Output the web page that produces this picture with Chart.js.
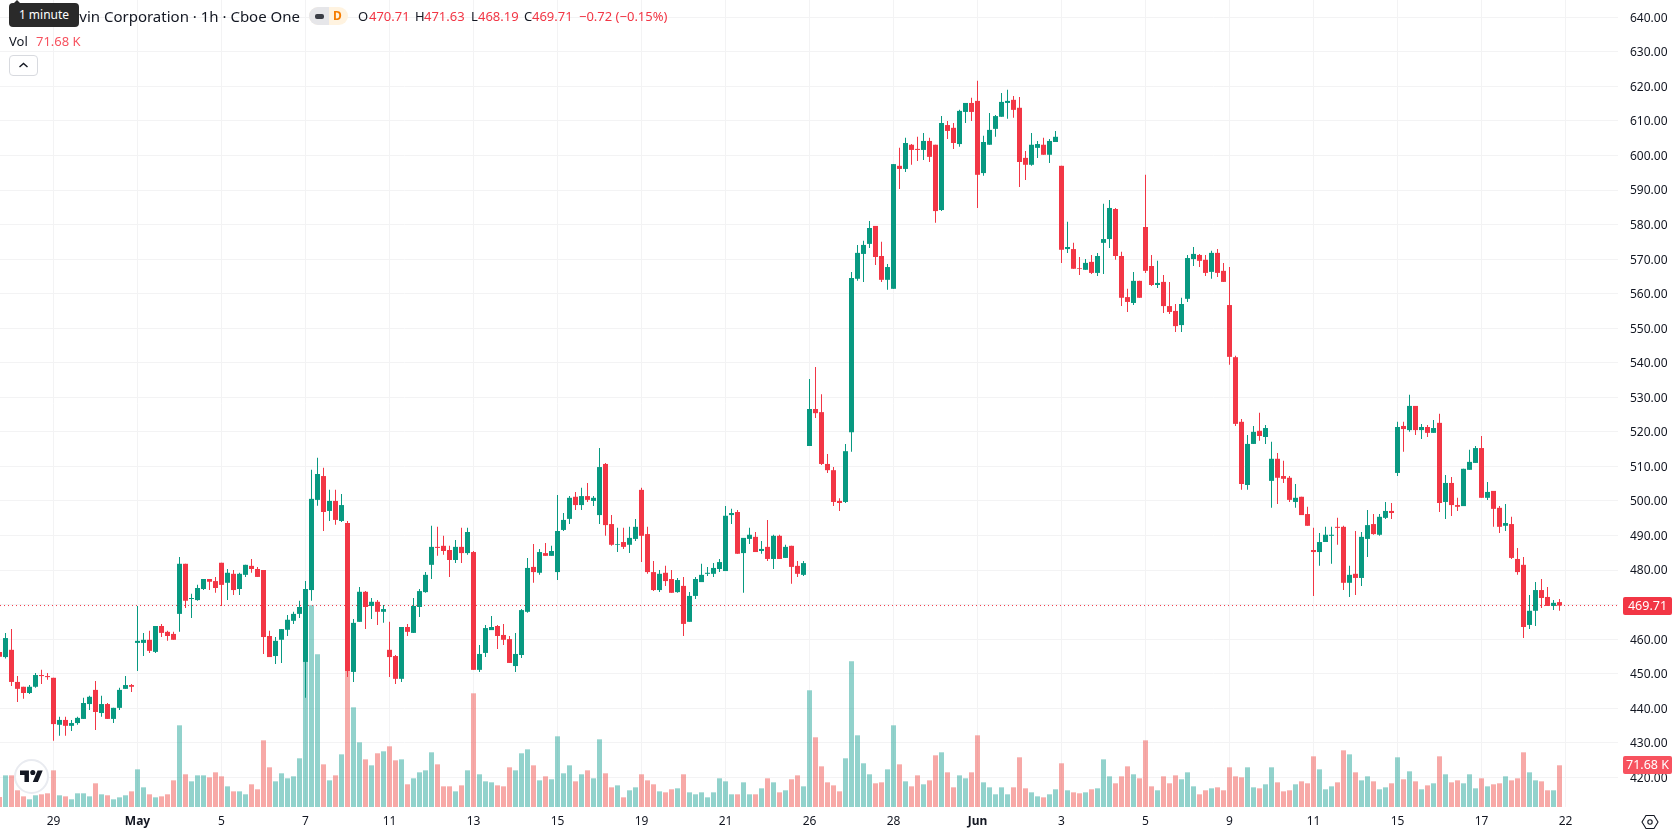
<!DOCTYPE html>
<html>
<head>
<meta charset="utf-8">
<title>AppLovin Corporation · 1h</title>
<script src="https://cdn.jsdelivr.net/npm/chart.js@4/dist/chart.umd.min.js"></script>
<style>
    html, body { margin: 0; padding: 0; background: #fff; overflow: hidden; }
    #wrap { position: relative; width: 1678px; height: 835px; font-family: "Noto Sans", sans-serif; color: #131722; }
    #priceChart { position: absolute; left: 0; top: 0; }
    .txt { position: absolute; white-space: nowrap; font-size: 13px; line-height: 18px; }
    .red { color: #f23645; }
    #tip { position: absolute; left: 9px; top: 3px; width: 70px; height: 24px; background: #2a2a2a; border-radius: 4px; color: #fff; font-size: 12px; line-height: 24px; text-align: center; }
    #tip:before { content: ""; position: absolute; left: 4px; top: -3px; border: 4px solid transparent; border-top: 0; border-bottom-color: #2a2a2a; }
    #pill { position: absolute; left: 309px; top: 7px; width: 39px; height: 18px; border-radius: 9px; overflow: hidden; background: #fff3e0; }
    #pill i { position: absolute; left: 0; top: 0; width: 20px; height: 18px; background: #e6e6e9; }
    #pill b { position: absolute; left: 6px; top: 7px; width: 9px; height: 5px; border-radius: 2px; background: #3a3d45; }
    #pill span { position: absolute; left: 24px; top: 0; font-size: 12px; line-height: 18px; font-weight: 700; color: #f57c00; }
    #collapse { position: absolute; left: 9px; top: 55px; width: 27px; height: 19px; border: 1px solid #d8dadf; border-radius: 4px; background: #fff; }
    #logo { position: absolute; left: 14px; top: 759px; width: 31px; height: 31px; border: 2px solid #e9ebf0; border-radius: 50%; background: #fff; }
    #gear { position: absolute; left: 1641px; top: 813px; }
</style>
</head>
<body>
<div id="wrap">
    <canvas id="priceChart" width="1678" height="835"></canvas>

    <span class="txt" style="right:1378px;top:7px;font-size:15px;">AppLovin Corporation · 1h · Cboe One</span>
    <div id="tip">1 minute</div>
    <div id="pill"><i></i><b></b><span>D</span></div>
    <span class="txt" style="left:358px;top:7px;">O</span><span class="txt red" style="left:369px;top:7px;">470.71</span>
    <span class="txt" style="left:415px;top:7px;">H</span><span class="txt red" style="left:424px;top:7px;">471.63</span>
    <span class="txt" style="left:471px;top:7px;">L</span><span class="txt red" style="left:478px;top:7px;">468.19</span>
    <span class="txt" style="left:524px;top:7px;">C</span><span class="txt red" style="left:532px;top:7px;">469.71</span>
    <span class="txt red" style="left:579px;top:7px;">−0.72 (−0.15%)</span>
    <span class="txt" style="left:9px;top:32px;">Vol</span><span class="txt" style="left:36px;top:32px;color:#f7525f;">71.68 K</span>

    <div id="collapse">
        <svg width="27" height="19" viewBox="0 0 27 19"><path d="M9.5 11 L13.5 7.5 L17.5 11" fill="none" stroke="#131722" stroke-width="1.4"/></svg>
    </div>

    <div id="logo">
        <svg style="position:absolute;left:4px;top:7px;" width="23" height="18" viewBox="0 0 36 28"><path d="M14 22H7V11H0V4h14v18zM28 22h-8l7.5-18h8L28 22z" fill="#131722"/><circle cx="20" cy="7" r="4" fill="#131722"/></svg>
    </div>

    <svg id="gear" width="18" height="18" viewBox="0 0 18 18">
        <path d="M5 2.5h8l4 6.5-4 6.5H5L1 9z" fill="none" stroke="#131722" stroke-width="1.1"/>
        <circle cx="9" cy="9" r="2.2" fill="none" stroke="#131722" stroke-width="1.1"/>
    </svg>
</div>

<script>
// Hourly candles, oldest first
const opens = [
    456.3,454.8,456.9,447.6,446.2,444.4,446.2,449.6,449.3,448.8,
    435.2,436.6,434.9,435.7,436.9,441.2,445.3,438.6,441.2,436.9,
    440.1,445.6,446.7,458.9,458.9,459.8,456.3,463.8,462.1,461.5,
    467.3,481.8,471.6,471.3,474.5,477.4,476.8,482.1,476.3,478.9,
    474.5,478.6,481.2,480.3,480.0,460.9,455.1,459.8,462.7,465.3,
    467.3,453.4,474.2,500.3,507.2,497.1,500.0,494.2,493.6,450.5,
    465.0,473.7,469.6,470.8,467.9,456.9,455.1,448.5,463.5,461.8,
    469.3,473.6,481.5,486.7,487.0,485.8,482.9,486.7,484.9,485.2,
    451.1,456.0,462.6,463.8,461.2,460.0,452.2,455.4,467.9,480.9,
    479.2,484.9,484.1,479.4,491.6,494.8,501.2,498.8,501.4,500.0,
    495.9,510.7,493.3,487.3,488.1,487.3,489.0,503.2,490.4,479.4,
    474.2,479.2,477.4,473.6,475.4,465.0,472.5,476.5,478.9,478.9,
    480.3,479.7,495.9,496.8,484.9,489.0,489.6,485.5,486.7,483.2,
    489.9,483.5,487.0,481.2,478.6,515.9,526.6,525.7,510.7,508.9,
    500.0,499.7,519.9,564.3,571.5,574.4,579.6,570.9,564.0,561.4,
    597.0,596.1,603.1,601.9,601.6,604.2,603.1,584.2,608.8,608.0,
    603.3,612.6,615.2,615.8,594.9,603.1,607.7,611.2,615.2,616.1,
    613.8,599.3,597.3,602.2,603.1,600.2,603.9,597.0,572.9,572.9,
    567.4,566.9,569.2,566.0,574.7,575.8,584.5,570.9,559.0,557.3,
    563.7,579.3,568.0,562.5,563.4,556.4,555.0,550.9,558.5,570.0,
    571.2,569.8,566.3,571.8,566.6,556.7,541.6,522.9,504.6,516.5,
    520.3,518.5,505.8,512.2,507.2,506.7,499.7,501.2,496.2,485.8,
    485.2,488.1,489.9,492.5,492.5,476.3,478.9,477.7,489.0,493.3,
    490.2,495.1,497.1,508.1,521.7,520.5,527.5,520.5,521.4,519.7,
    522.6,499.7,505.2,498.8,498.5,509.0,511.0,515.3,500.9,502.9,
    498.0,492.8,493.3,483.2,481.5,464.1,468.2,474.2,472.2,469.6,
    470.71
];
const highs = [
    456.3,461.8,462.9,449.3,446.2,446.7,450.2,451.1,450.2,448.8,
    437.5,437.5,436.6,437.5,443.0,443.6,447.9,443.6,441.5,440.1,
    445.9,449.3,447.0,469.6,461.8,462.4,463.8,464.4,462.4,462.1,
    483.8,481.8,473.1,475.7,477.4,477.4,478.0,482.1,480.3,480.0,
    479.2,481.5,483.2,480.9,480.0,462.4,460.6,462.9,467.0,467.9,
    471.1,476.8,509.0,512.5,509.6,503.2,503.2,502.0,494.2,465.8,
    475.1,473.9,471.9,471.3,469.9,465.0,455.4,463.5,464.4,471.9,
    474.5,479.4,492.8,492.5,489.9,487.0,488.7,492.2,492.2,485.5,
    458.3,464.1,466.7,464.1,464.4,460.9,461.8,468.7,483.5,487.5,
    486.1,487.8,487.0,501.7,496.5,501.4,502.6,503.8,505.2,501.4,
    515.3,511.0,495.9,492.2,492.2,492.5,494.8,503.8,492.5,482.6,
    480.0,481.2,480.0,477.7,478.0,473.6,478.0,481.8,480.9,482.0,
    483.2,498.5,497.7,497.4,489.3,492.2,491.0,488.4,494.5,490.2,
    490.2,487.3,487.0,482.6,482.6,535.3,538.8,530.9,513.6,509.8,
    500.8,516.5,566.3,574.1,575.3,581.0,579.6,575.0,568.6,597.5,
    602.2,605.1,603.3,605.4,606.5,605.1,603.1,611.4,610.0,609.4,
    613.2,615.2,616.7,621.6,605.7,612.3,611.7,618.1,619.0,617.2,
    616.9,601.3,606.5,604.2,605.1,604.8,607.1,597.0,580.8,574.7,
    570.6,570.0,571.2,571.8,586.0,587.1,584.8,572.1,561.4,566.3,
    563.7,594.4,571.2,569.5,565.4,563.4,557.0,558.8,571.2,573.5,
    571.5,571.2,572.4,572.9,568.9,567.7,542.0,523.7,519.1,521.7,
    525.5,522.0,517.1,513.9,511.6,507.2,504.9,501.2,498.3,492.2,
    490.7,492.5,492.5,495.1,492.8,481.2,491.3,491.0,497.4,496.2,
    496.2,499.7,499.4,522.9,522.9,530.7,527.5,522.3,522.0,523.4,
    525.2,507.5,506.9,500.9,509.3,514.8,515.9,518.8,505.5,502.9,
    498.5,499.1,495.4,486.4,483.8,472.8,476.5,477.4,475.1,471.3,
    471.63
];
const lows = [
    454.9,454.4,446.4,441.8,442.7,444.1,445.9,447.0,448.2,430.6,
    432.0,432.0,433.4,435.2,436.9,439.5,433.7,437.5,436.9,435.7,
    439.5,445.6,444.7,450.8,455.1,456.0,456.0,460.6,459.5,459.8,
    462.1,469.0,466.1,471.1,474.2,474.2,473.4,469.6,471.3,472.8,
    472.8,478.0,479.2,478.0,455.7,454.8,452.8,453.1,460.9,464.4,
    466.1,443.0,471.1,498.6,491.3,494.2,493.1,493.9,449.0,447.6,
    465.0,462.9,465.8,464.1,464.7,449.0,447.0,447.6,460.9,461.8,
    466.4,473.4,477.4,484.1,484.4,478.0,482.0,482.0,484.4,451.1,
    450.5,454.8,462.6,457.1,458.3,453.1,450.5,454.5,467.6,476.3,
    478.6,484.1,484.1,477.1,491.3,493.3,497.4,497.4,499.7,498.5,
    493.3,489.9,487.0,485.2,486.1,484.9,488.4,482.3,478.9,473.9,
    473.6,475.4,473.4,473.4,460.9,465.0,471.6,476.5,478.3,478.0,
    479.4,479.7,493.3,484.7,473.4,487.5,485.2,484.7,482.6,480.3,
    483.2,483.5,476.0,478.0,478.3,515.9,524.0,510.4,508.1,498.5,
    497.1,499.4,514.2,563.7,563.4,573.2,568.3,563.4,561.1,561.4,
    590.3,595.2,597.3,598.4,598.7,598.1,580.5,583.9,604.8,601.9,
    602.5,609.4,610.0,584.8,594.1,603.1,605.4,611.2,610.6,610.9,
    590.9,592.9,597.0,599.3,600.2,597.8,603.9,568.9,571.8,567.2,
    565.4,566.9,565.7,565.1,565.7,573.2,569.8,556.4,554.7,556.7,
    558.8,566.0,562.2,561.6,554.4,554.1,548.9,548.9,557.6,568.0,
    567.7,565.1,564.3,564.8,563.4,539.4,521.7,503.2,503.2,516.5,
    517.4,516.5,498.0,499.1,505.2,499.7,498.0,495.9,492.8,472.5,
    481.2,488.1,481.8,487.3,474.2,472.2,472.8,475.4,483.8,490.2,
    489.9,494.8,494.8,507.2,514.2,520.0,519.1,517.9,518.5,519.7,
    496.8,494.8,495.6,497.1,498.5,509.0,511.0,500.9,500.3,492.5,
    490.7,491.3,483.2,478.6,460.3,462.9,463.8,469.0,469.6,468.4,
    468.19
];
const closes = [
    454.9,460.3,447.6,445.6,444.4,446.2,449.6,449.3,449.0,435.4,
    436.6,434.9,435.7,437.2,441.5,443.3,438.9,441.2,436.9,440.1,
    445.3,446.7,446.2,459.5,459.8,456.6,463.8,461.8,460.9,459.8,
    481.8,471.1,471.9,474.8,477.4,476.6,474.8,475.7,479.2,474.2,
    478.9,481.5,480.3,478.0,460.6,454.8,459.5,462.9,465.6,467.3,
    469.3,474.5,500.6,507.8,496.8,500.0,494.5,498.8,450.8,464.7,
    473.7,469.3,470.8,467.9,468.7,454.8,448.5,463.5,462.1,469.6,
    473.9,478.6,486.7,486.4,485.5,482.9,486.7,484.9,491.0,451.1,
    455.7,463.2,463.5,460.9,459.8,453.1,455.7,468.4,480.6,479.4,
    485.2,484.1,485.5,491.3,494.5,500.9,498.8,501.4,500.3,500.9,
    509.8,493.0,487.3,487.5,486.7,489.3,492.5,489.9,479.4,474.2,
    478.9,476.8,473.4,477.1,464.4,472.5,477.4,478.6,479.2,480.6,
    482.3,495.7,496.5,484.7,489.3,490.2,485.2,486.1,483.2,489.9,
    483.2,486.7,480.9,478.9,482.0,526.6,525.4,510.7,508.9,499.7,
    499.4,514.4,564.5,571.8,574.1,579.0,570.6,564.0,567.7,597.5,
    596.1,603.6,601.6,601.6,604.2,599.6,583.9,609.4,607.1,603.6,
    612.9,615.2,612.6,594.4,603.9,607.4,611.4,615.5,615.8,613.2,
    598.1,597.3,603.1,603.3,600.2,604.2,605.4,572.7,573.5,567.2,
    567.2,568.9,566.0,570.9,575.8,584.8,570.9,558.8,557.6,563.7,
    558.8,566.6,562.5,563.1,556.4,554.7,550.6,557.0,570.3,571.5,
    569.5,566.0,571.8,566.0,563.4,541.7,522.3,504.9,516.5,520.0,
    518.8,521.1,512.2,506.7,506.4,500.3,500.9,495.9,492.8,485.2,
    488.1,490.2,490.2,492.2,476.3,478.6,477.7,489.6,493.0,490.4,
    495.4,497.1,496.5,521.4,520.8,527.5,520.5,521.4,519.7,521.1,
    499.4,505.2,498.8,498.3,509.3,511.3,515.3,500.9,502.6,497.7,
    492.5,493.6,483.5,479.4,463.5,468.2,474.2,471.9,469.6,470.5,
    469.71
];
// Volume per candle, in thousands
const volumes = [
    17.2,54.4,54.4,28.7,18.3,13.2,20.1,21.8,23.5,63.0,
    20.1,18.3,13.2,23.5,23.5,18.3,40.7,21.8,20.1,13.2,
    16.6,20.1,26.9,64.7,33.8,21.8,16.6,18.3,21.8,45.8,
    140.4,56.2,44.1,54.4,54.4,51.0,59.6,52.7,35.5,26.9,
    26.9,21.8,39.0,30.4,114.6,68.2,44.1,57.9,49.3,52.7,
    83.7,286.5,346.7,262.4,73.3,45.8,54.4,90.5,269.3,171.3,
    111.2,81.9,71.6,92.3,95.7,104.3,80.2,81.9,39.0,49.3,
    59.6,63.0,94.0,73.3,35.5,35.5,26.9,37.2,63.0,195.4,
    56.2,44.1,42.4,37.2,35.5,68.2,63.0,92.3,99.1,71.6,
    45.8,52.7,47.6,121.5,57.9,71.6,44.1,56.2,63.0,49.3,
    116.3,57.9,33.8,37.2,16.6,28.7,33.8,56.2,45.8,39.0,
    26.9,25.2,30.4,32.1,56.2,25.2,21.8,25.2,16.6,25.2,
    49.3,44.1,21.8,21.8,42.4,21.8,21.8,32.1,49.3,42.4,
    25.2,28.7,47.6,54.4,35.5,200.6,119.8,69.9,42.4,37.2,
    26.9,83.7,250.4,123.2,75.1,56.2,40.7,42.4,64.7,140.4,
    73.3,44.1,35.5,54.4,39.0,45.8,88.8,94.0,59.6,33.8,
    54.4,49.3,59.6,123.2,42.4,33.8,21.8,33.8,21.8,33.8,
    85.4,32.1,25.2,18.3,16.6,21.8,30.4,75.1,28.7,25.2,
    23.5,25.2,30.4,32.1,81.9,52.7,40.7,52.7,69.9,56.2,
    49.3,114.6,35.5,28.7,52.7,40.7,54.4,47.6,59.6,35.5,
    21.8,28.7,32.1,33.8,28.7,68.2,52.7,51.0,68.2,33.8,
    32.1,39.0,68.2,42.4,26.9,28.7,39.0,44.1,40.7,87.1,
    64.7,30.4,35.5,42.4,97.4,90.5,59.6,45.8,52.7,44.1,
    30.4,33.8,40.7,85.4,47.6,61.3,44.1,30.4,37.2,40.7,
    87.1,56.2,42.4,45.8,40.7,56.2,32.1,49.3,35.5,39.0,
    40.7,52.7,45.8,49.3,94.0,59.6,45.8,44.1,28.7,28.7,
    71.68
];

// Date labels on the time axis and the candle each one sits under
const dateLabels = ['29', 'May', '5', '7', '11', '13', '15', '19', '21', '26', '28', 'Jun', '3', '5', '9', '11', '15', '17', '22'];
const dateIndexes = [9, 23, 37, 51, 65, 79, 93, 107, 121, 135, 149, 163, 177, 191, 205, 219, 233, 247, 261];
const monthLabels = ['May', 'Jun'];

const UP = '#089981';
const DOWN = '#f23645';
const UP_VOL = 'rgba(38,166,154,0.5)';
const DOWN_VOL = 'rgba(239,83,80,0.5)';
const GRID = '#f3f3f4';
const TEXT = '#131722';

// Visible candle range: 6px per candle across a 1618px pane
const X_MIN = 1 / 12;
const X_MAX = X_MIN + 1618 / 6;

const isUp = i => closes[i] >= opens[i];
const lastIndex = closes.length - 1;

// Price and volume tags on the right axis
const lastValueTags = {
    id: 'lastValueTags',
    afterDraw(chart) {
        const ctx = chart.ctx;
        const drawTag = (y, text, color) => {
            ctx.save();
            ctx.fillStyle = color;
            ctx.beginPath();
            ctx.roundRect(1623, Math.round(y) - 9, 49, 18, 2);
            ctx.fill();
            ctx.fillStyle = '#fff';
            ctx.font = '12.5px "Noto Sans"';
            ctx.textAlign = 'center';
            ctx.textBaseline = 'middle';
            ctx.fillText(text, 1647.5, Math.round(y) + 0.5);
            ctx.restore();
        };
        drawTag(chart.scales.y.getPixelForValue(closes[lastIndex]), closes[lastIndex].toFixed(2), DOWN);
        drawTag(chart.scales.vol.getPixelForValue(volumes[lastIndex]), volumes[lastIndex].toFixed(2) + ' K', '#f7525f');
    }
};

// The pane runs edge to edge, so the axes keep no room for their end labels
const fitX = scale => {
    scale.height = 28;
    scale.paddingLeft = scale.paddingRight = 0;
};
const fitY = scale => {
    scale.width = 60;
    scale.paddingTop = scale.paddingBottom = 0;
};

const ctx = document.getElementById('priceChart').getContext('2d');
new Chart(ctx, {
    data: {
        datasets: [
            {
                type: 'bar',
                yAxisID: 'y',
                order: 1,
                grouped: false,
                barPercentage: 1,
                categoryPercentage: 1,
                maxBarThickness: 5,
                inflateAmount: 0,
                data: opens.map((o, i) => ({ x: i, y: [o, closes[i]] })),
                backgroundColor: opens.map((_, i) => isUp(i) ? UP : DOWN)
            },
            {
                type: 'bar',
                yAxisID: 'y',
                order: 2,
                grouped: false,
                barPercentage: 1,
                categoryPercentage: 1,
                maxBarThickness: 1,
                inflateAmount: 0,
                data: lows.map((l, i) => ({ x: i, y: [l, highs[i]] })),
                backgroundColor: opens.map((_, i) => isUp(i) ? UP : DOWN)
            },
            {
                // last close, dotted across the whole pane
                type: 'line',
                yAxisID: 'y',
                order: 3,
                data: [{ x: X_MIN, y: closes[lastIndex] }, { x: X_MAX, y: closes[lastIndex] }],
                borderColor: DOWN,
                borderWidth: 1,
                borderDash: [1, 3],
                pointRadius: 0
            },
            {
                type: 'bar',
                yAxisID: 'vol',
                order: 4,
                grouped: false,
                barPercentage: 1,
                categoryPercentage: 1,
                maxBarThickness: 5,
                inflateAmount: 0,
                data: volumes.map((v, i) => ({ x: i, y: v })),
                backgroundColor: opens.map((_, i) => isUp(i) ? UP_VOL : DOWN_VOL)
            }
        ]
    },
    options: {
        responsive: false,
        animation: false,
        events: [],
        layout: { padding: 0 },
        plugins: { legend: { display: false }, tooltip: { enabled: false } },
        scales: {
            x: {
                type: 'linear',
                offset: false,
                min: X_MIN,
                max: X_MAX,
                afterBuildTicks: scale => { scale.ticks = dateIndexes.map(value => ({ value })); },
                afterFit: fitX,
                grid: { color: GRID, drawTicks: false, offset: false },
                border: { display: false },
                ticks: {
                    autoSkip: false,
                    maxRotation: 0,
                    padding: 7,
                    color: TEXT,
                    callback: value => dateLabels[dateIndexes.indexOf(value)],
                    font: c => ({
                        family: '"Noto Sans"',
                        size: 12,
                        weight: c.tick && monthLabels.includes(dateLabels[dateIndexes.indexOf(c.tick.value)]) ? 'bold' : 'normal'
                    })
                }
            },
            y: {
                position: 'right',
                min: 411.4,
                max: 645,
                afterFit: fitY,
                grid: { color: GRID, drawTicks: false },
                border: { display: false },
                ticks: {
                    stepSize: 10,
                    includeBounds: false,
                    padding: 12,
                    labelOffset: 1,
                    color: TEXT,
                    font: { family: '"Noto Sans"', size: 12 },
                    callback: value => value.toFixed(2)
                }
            },
            vol: {
                display: false,
                position: 'left',
                min: 0,
                max: 1387,
                grid: { display: false }
            }
        }
    },
    plugins: [lastValueTags]
});
</script>
</body>
</html>
